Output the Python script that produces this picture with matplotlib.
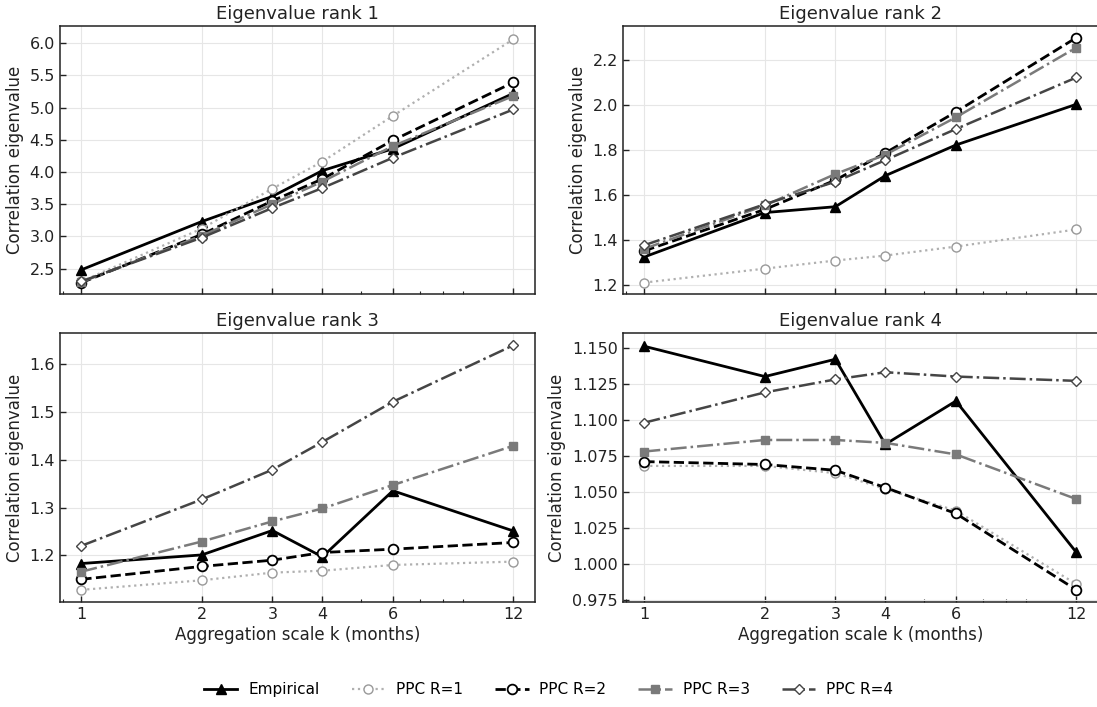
import numpy as np
import matplotlib
matplotlib.use("Agg")
import matplotlib.pyplot as plt
from matplotlib.ticker import ScalarFormatter, NullFormatter, LogLocator

plt.rcParams['font.family'] = 'sans-serif'
plt.rcParams['font.sans-serif'] = ['DejaVu Sans']

# aggregation scales (months)
scales = [1, 2, 3, 4, 6, 12]

# eigenvalues per rank: empirical vs posterior predictive checks
emp = [
   [2.48, 3.23, 3.62, 4.02, 4.36, 5.22],
   [1.326, 1.523, 1.549, 1.687, 1.823, 2.004],
   [1.183, 1.201, 1.252, 1.197, 1.335, 1.251],
   [1.151, 1.130, 1.142, 1.083, 1.113, 1.008],
]
ppc_r1 = [
   [2.30, 3.12, 3.74, 4.16, 4.87, 6.06],
   [1.212, 1.274, 1.310, 1.332, 1.372, 1.448],
   [1.128, 1.148, 1.164, 1.168, 1.180, 1.187],
   [1.068, 1.068, 1.063, 1.052, 1.037, 0.986],
]
ppc_r2 = [
   [2.28, 3.03, 3.55, 3.89, 4.49, 5.39],
   [1.353, 1.537, 1.667, 1.788, 1.970, 2.300],
   [1.150, 1.177, 1.190, 1.206, 1.213, 1.227],
   [1.071, 1.069, 1.065, 1.053, 1.035, 0.982],
]
ppc_r3 = [
   [2.29, 3.01, 3.50, 3.85, 4.40, 5.18],
   [1.362, 1.555, 1.694, 1.780, 1.946, 2.256],
   [1.166, 1.229, 1.271, 1.298, 1.347, 1.429],
   [1.078, 1.086, 1.086, 1.084, 1.076, 1.045],
]
ppc_r4 = [
   [2.30, 2.98, 3.44, 3.75, 4.22, 4.97],
   [1.378, 1.560, 1.660, 1.756, 1.894, 2.123],
   [1.220, 1.317, 1.379, 1.437, 1.521, 1.639],
   [1.098, 1.119, 1.128, 1.133, 1.130, 1.127],
]

titles = ['Eigenvalue rank 1', 'Eigenvalue rank 2', 'Eigenvalue rank 3', 'Eigenvalue rank 4']
ylims = [(2.10, 6.27), (1.16, 2.353), (1.102, 1.664), (0.9734, 1.160)]
yticks = [
   [2.5, 3.0, 3.5, 4.0, 4.5, 5.0, 5.5, 6.0],
   [1.2, 1.4, 1.6, 1.8, 2.0, 2.2],
   [1.2, 1.3, 1.4, 1.5, 1.6],
   [0.975, 1.000, 1.025, 1.050, 1.075, 1.100, 1.125, 1.150],
]
yfmt = ['%.1f', '%.1f', '%.1f', '%.3f']

series = [
   ('Empirical', emp,    dict(color='black', ls='-',  lw=2.0, marker='^', ms=7, mfc='black', mec='black')),
   ('PPC R=1',   ppc_r1, dict(color='#b0b0b0', ls=':', lw=1.6, marker='o', ms=6.5, mfc='white', mec='#999999', mew=1.0)),
   ('PPC R=2',   ppc_r2, dict(color='black', ls='--', lw=2.0, marker='o', ms=7, mfc='white', mec='black', mew=1.3)),
   ('PPC R=3',   ppc_r3, dict(color='#7a7a7a', ls='-.', lw=1.8, marker='s', ms=6, mfc='#7a7a7a', mec='#7a7a7a')),
   ('PPC R=4',   ppc_r4, dict(color='#454545', ls='-.', lw=1.8, marker='D', ms=5.5, mfc='white', mec='#454545', mew=1.0)),
]

fig = plt.figure(figsize=(10.97, 7.07), dpi=100)
W, H = 1097.0, 707.0
# axes boxes in pixels: left, top, right, bottom
boxes = [(59.7, 25.7, 535.0, 294.3), (622.7, 25.7, 1098.0, 294.3),
         (59.7, 333.3, 535.0, 602.3), (622.7, 333.3, 1098.0, 602.3)]

handles = []
for i, (l, t, r, b) in enumerate(boxes):
   ax = fig.add_axes([l / W, 1 - b / H, (r - l) / W, (b - t) / H])
   for name, data, kw in series:
      h, = ax.plot(scales, data[i], label=name, zorder=3, **kw)
      if i == 0:
         handles.append(h)
   ax.set_xscale('log')
   ax.set_xticks(scales)
   ax.xaxis.set_major_formatter(ScalarFormatter())
   ax.xaxis.set_minor_locator(LogLocator(subs='auto'))
   ax.xaxis.set_minor_formatter(NullFormatter())
   ax.set_yticks(yticks[i])
   ax.set_yticklabels([yfmt[i] % v for v in yticks[i]])
   ax.set_ylim(*ylims[i])
   ax.grid(True, which='major', color='#e6e6e6', lw=0.8, zorder=0)
   ax.tick_params(which='major', direction='in', length=4, width=1, labelsize=11.5, colors='#222222', labelcolor='#222222')
   ax.tick_params(which='minor', direction='in', length=2.5, width=0.8, colors='#222222')
   for sp in ax.spines.values():
      sp.set_color('#222222')
      sp.set_linewidth(1.1)
   ax.set_title(titles[i], fontsize=13, color='#222222', pad=5)
   ax.set_ylabel('Correlation eigenvalue', fontsize=12, color='#222222', labelpad=4)
   if i < 2:
      ax.tick_params(axis='x', labelbottom=False)
   else:
      ax.set_xlabel('Aggregation scale k (months)', fontsize=12, color='#222222', labelpad=3)

fig.legend(handles=handles, loc='lower center', bbox_to_anchor=(0.5, -0.006), ncol=5,
           frameon=False, fontsize=11, handlelength=2.2, handletextpad=0.7, columnspacing=2.1)

fig.savefig('out.png', dpi=100)
